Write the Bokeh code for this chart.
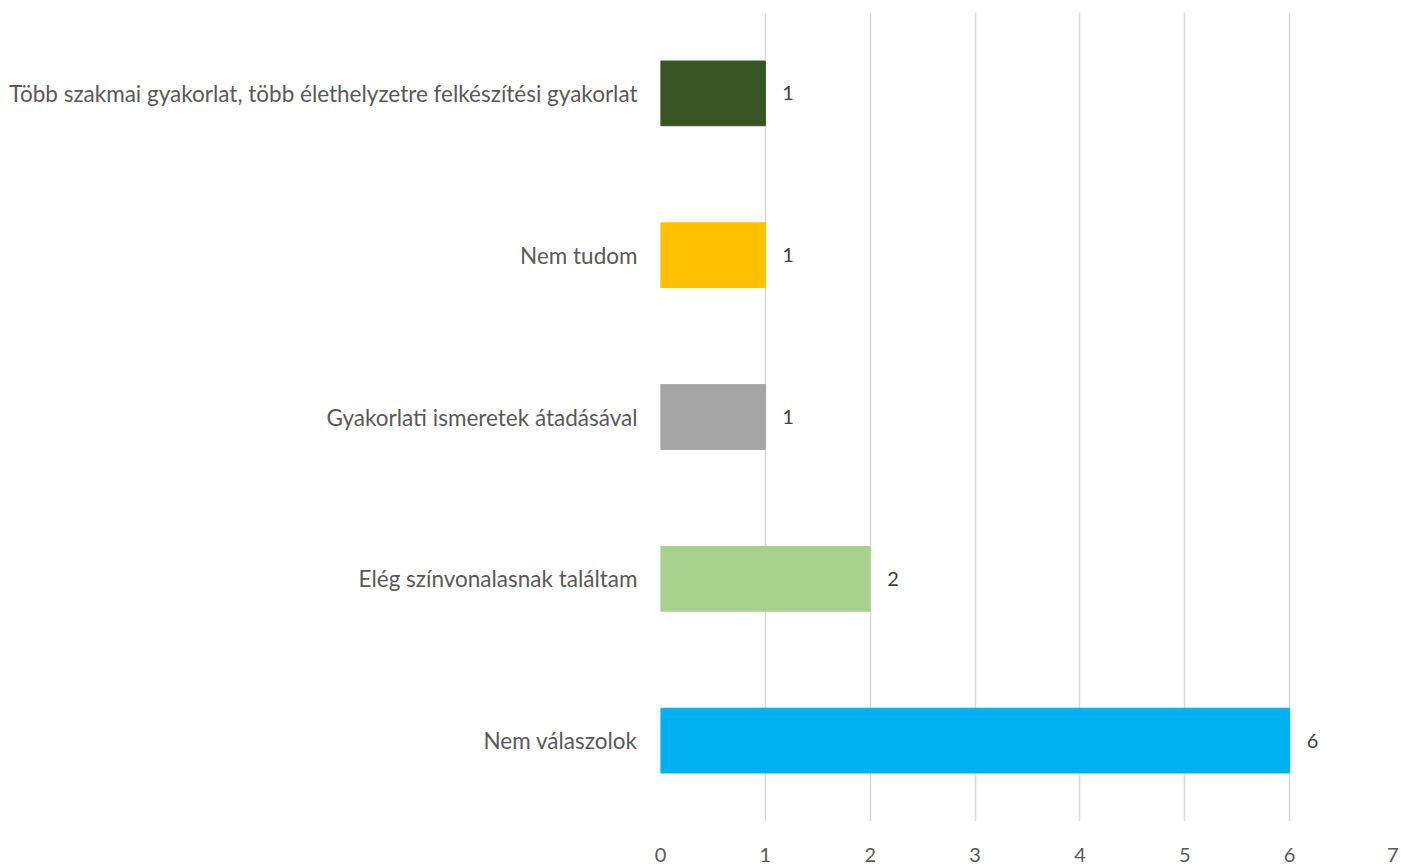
from bokeh.plotting import figure
from bokeh.models import ColumnDataSource, FactorRange, Range1d, FixedTicker, LabelSet
from bokeh.core.properties import value
from bokeh.embed import file_html
from bokeh.resources import INLINE

categories = ["Nem válaszolok", "Elég színvonalasnak találtam", "Gyakorlati ismeretek átadásával",
              "Nem tudom", "Több szakmai gyakorlat, több élethelyzetre felkészítési gyakorlat"]
values = [6, 2, 1, 1, 1]
colors = ["#00B0F0", "#A9D18E", "#A5A5A5", "#FFC000", "#375623"]
x_ticks = [0, 1, 2, 3, 4, 5, 6, 7]

src = ColumnDataSource(dict(cat=categories, val=values, col=colors,
                            lab=[str(v) for v in values]))

p = figure(width=1398, height=864, output_backend="svg", toolbar_location=None,
           y_range=FactorRange(*categories, range_padding=0), x_range=Range1d(0, 7),
           min_border_left=660, min_border_right=4, min_border_top=12, min_border_bottom=38)
p.outline_line_color = None
p.hbar(y="cat", right="val", left=0, height=0.4, color="col", source=src)

labels = LabelSet(x="val", y="cat", text="lab", source=src, x_offset=17,
                  text_baseline="middle", text_font=value("Lato"), text_font_size="20px",
                  text_color="#404040")
p.add_layout(labels)

p.xaxis.ticker = FixedTicker(ticks=x_ticks)
p.xaxis.axis_line_color = None
p.xaxis.major_tick_line_color = None
p.xaxis.minor_tick_line_color = None
p.xaxis.major_label_text_font = "Lato"
p.xaxis.major_label_text_font_size = "20px"
p.xaxis.major_label_text_color = "#595959"
p.xaxis.major_label_standoff = 20

p.yaxis.axis_line_color = None
p.yaxis.major_tick_line_color = None
p.yaxis.minor_tick_line_color = None
p.yaxis.major_label_text_font = "Lato"
p.yaxis.major_label_text_font_size = "22.5px"
p.yaxis.major_label_text_color = "#595959"
p.yaxis.major_label_standoff = 17

p.ygrid.grid_line_color = None
p.xgrid.grid_line_color = "#D9D9D9"
p.xgrid.grid_line_width = 1.5

open("out.html", "w").write(file_html(p, INLINE))
